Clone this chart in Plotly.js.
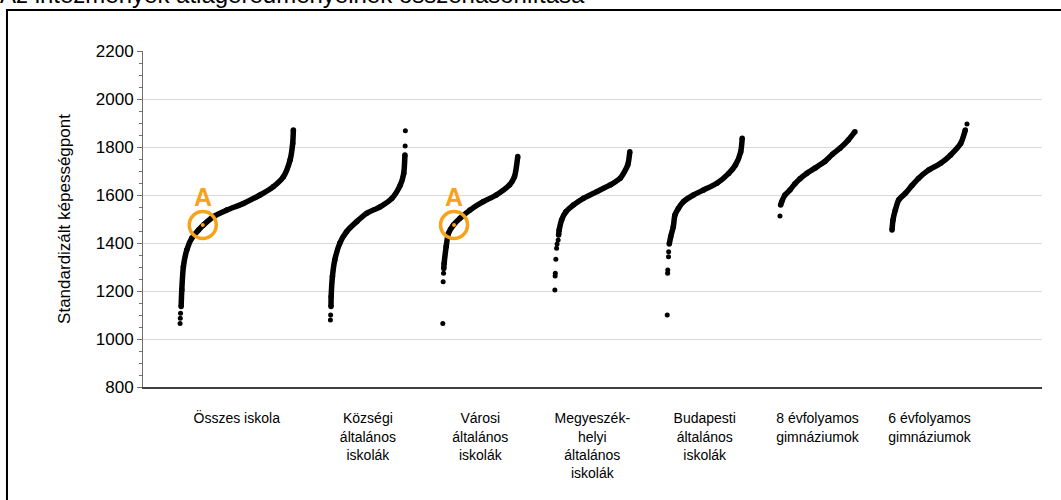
<!DOCTYPE html>
<html><head><meta charset="utf-8">
<script src="https://cdn.plot.ly/plotly-3.0.1.min.js"></script>
<style>html,body{margin:0;padding:0;background:#fff;overflow:hidden;} #chart{width:1061px;height:500px;}</style>
</head><body><div id="chart"></div>
<script>
// ---- category labels ----
const categories = ['Összes iskola', 'Községi<br>általános<br>iskolák', 'Városi<br>általános<br>iskolák',
  'Megyeszék-<br>helyi<br>általános<br>iskolák', 'Budapesti<br>általános<br>iskolák',
  '8 évfolyamos<br>gimnáziumok', '6 évfolyamos<br>gimnáziumok'];

// ---- data: percentile rank within group (%) and school mean score ----
const osszesRank  = [0.9, 1.5, 2.9, 5.9, 10.3, 16.2, 20.6, 29.4, 41.2, 55.9, 70.6, 82.4, 91.2, 97.1, 99.4, 100];
const osszesScore = [1135, 1204, 1301, 1371, 1420, 1454, 1475, 1510, 1537, 1565, 1600, 1635, 1676, 1746, 1815, 1871];
const osszesOutRank  = [0, 0.2, 0.4];
const osszesOutScore = [1065, 1086, 1107];

const kozsegiRank  = [0.8, 1.0, 2.7, 5.8, 12.5, 21.5, 35, 48.5, 66.4, 82.1, 93.3, 97.8, 99.4];
const kozsegiScore = [1135, 1176, 1260, 1329, 1399, 1447, 1489, 1524, 1551, 1586, 1642, 1690, 1767];
const kozsegiOutRank  = [0, 0.3, 99.7, 100];
const kozsegiOutScore = [1079, 1100, 1804, 1868];

const varosiRank  = [1.3, 1.8, 4.5, 7.5, 14.2, 23, 36.2, 53.8, 71.4, 89, 95.6, 100];
const varosiScore = [1294, 1315, 1385, 1440, 1475, 1503, 1537, 1572, 1600, 1642, 1676, 1760];
const varosiOutRank  = [0, 0.5, 1.0];
const varosiOutScore = [1065, 1239, 1274];

const megyeRank  = [5.0, 5.8, 9.0, 14.8, 24.6, 38.1, 56, 73.9, 87.3, 97.2, 100];
const megyeScore = [1433, 1454, 1496, 1530, 1558, 1586, 1614, 1642, 1670, 1725, 1780];
const megyeOutRank  = [0, 0.4, 0.6, 1.3, 2.3, 3.0, 4.4];
const megyeOutScore = [1204, 1262, 1274, 1332, 1378, 1396, 1412];

const bpRank  = [2.7, 4.6, 8.1, 10.3, 14.8, 21.5, 35, 48.4, 66.3, 82, 91, 98, 100];
const bpScore = [1396, 1426, 1468, 1517, 1544, 1572, 1600, 1621, 1649, 1690, 1725, 1780, 1836];
const bpOutRank  = [0, 0.5, 0.7, 1.7, 1.9];
const bpOutScore = [1100, 1274, 1287, 1343, 1364];

const g8Rank  = [0.9, 2.3, 6.7, 13.3, 20, 26.7, 35.6, 46.7, 60, 70, 80, 91.1, 100];
const g8Score = [1558, 1572, 1600, 1621, 1647, 1668, 1690, 1712, 1740, 1770, 1795, 1829, 1864];
const g8OutRank  = [0];
const g8OutScore = [1512];

const g6Rank  = [0, 1.3, 4.4, 8.9, 17.8, 26.7, 35.6, 48.9, 64.9, 78.2, 91.6, 97.8];
const g6Score = [1454, 1496, 1537, 1579, 1607, 1640, 1670, 1704, 1732, 1767, 1815, 1871];
const g6OutRank  = [100];
const g6OutScore = [1896];

// highlighted school "A"
const highlightGroup = [0, 2];
const highlightRank  = [20, 15];
const highlightScore = [1475, 1475];
const highlightLabel = ['A', 'A'];

const yTicks = [800, 1000, 1200, 1400, 1600, 1800, 2000, 2200];

// ---- layout of groups along x ----
const groupCenter = [0, 1.167, 2.167, 3.164, 4.164, 5.167, 6.164];
const groupWidth  = [1.008, 0.667, 0.667, 0.667, 0.667, 0.667, 0.667];
const toX = (g, ranks) => ranks.map(r => groupCenter[g] + (r / 100 - 0.5) * groupWidth[g]);

const groups = [
  [osszesRank, osszesScore, osszesOutRank, osszesOutScore],
  [kozsegiRank, kozsegiScore, kozsegiOutRank, kozsegiOutScore],
  [varosiRank, varosiScore, varosiOutRank, varosiOutScore],
  [megyeRank, megyeScore, megyeOutRank, megyeOutScore],
  [bpRank, bpScore, bpOutRank, bpOutScore],
  [g8Rank, g8Score, g8OutRank, g8OutScore],
  [g6Rank, g6Score, g6OutRank, g6OutScore]
];

const traces = [];
groups.forEach((gr, g) => {
  traces.push({x: toX(g, gr[0]), y: gr[1], type: 'scatter', mode: 'lines+markers',
    line: {color: '#000', width: 5.5, shape: 'spline', smoothing: 0.7},
    marker: {color: '#000', size: 5.5}, hoverinfo: 'skip', showlegend: false});
  traces.push({x: toX(g, gr[2]), y: gr[3], type: 'scatter', mode: 'markers',
    marker: {color: '#000', size: 5}, hoverinfo: 'skip', showlegend: false});
});

const orange = '#F7A21B';
const hx = highlightGroup.map((g, i) => toX(g, [highlightRank[i]])[0]);
traces.push({x: hx, y: highlightScore, type: 'scatter', mode: 'markers',
  marker: {symbol: 'circle-open', size: 27, color: orange, line: {width: 3.5, color: orange}},
  hoverinfo: 'skip', showlegend: false});
traces.push({x: hx, y: highlightScore, type: 'scatter', mode: 'markers',
  marker: {size: 4, color: orange}, hoverinfo: 'skip', showlegend: false});

const annotations = hx.map((x, i) => ({x: x, y: highlightScore[i], xref: 'x', yref: 'y',
  text: '<b>' + highlightLabel[i] + '</b>', showarrow: false, yshift: 28,
  font: {family: 'Liberation Sans, Arial, sans-serif', size: 25, color: orange}}));
annotations.push({xref: 'paper', yref: 'paper', x: -0.161, y: 1.168, xanchor: 'left', yanchor: 'middle',
  text: 'Az intézmények átlageredményeinek összehasonlítása', showarrow: false,
  font: {family: 'Liberation Sans, Arial, sans-serif', size: 24, color: '#000'}});

const layout = {
  width: 1061, height: 500,
  margin: {l: 143, r: 19, t: 51, b: 113},
  paper_bgcolor: '#fff', plot_bgcolor: '#fff',
  font: {family: 'Liberation Sans, Arial, sans-serif', color: '#000'},
  xaxis: {range: [-0.834, 7.165], tickvals: groupCenter, ticktext: categories,
    showgrid: false, zeroline: false, showline: true, linecolor: '#404040', linewidth: 1.5,
    ticks: '', tickfont: {size: 14, color: '#000'}, ticklabelstandoff: 18, fixedrange: true},
  yaxis: {range: [800, 2200], tickvals: yTicks, showgrid: true, gridcolor: '#d9d9d9', gridwidth: 1,
    zeroline: false, showline: true, linecolor: '#707070', linewidth: 1,
    ticks: 'outside', ticklen: 5, tickcolor: '#707070', tickfont: {size: 17, color: '#000'},
    minor: {dtick: 50, ticks: 'outside', ticklen: 3, tickcolor: '#707070', showgrid: false},
    title: {text: 'Standardizált képességpont', font: {size: 17, color: '#000'}, standoff: 20},
    fixedrange: true},
  shapes: [{type: 'rect', xref: 'paper', yref: 'paper', x0: -0.1513, x1: 1.2, y0: -0.6, y1: 1.122,
    line: {color: '#000', width: 2}, fillcolor: 'rgba(0,0,0,0)', layer: 'above'}],
  annotations: annotations
};

Plotly.newPlot('chart', traces, layout, {displayModeBar: false, staticPlot: true});
</script></body></html>
